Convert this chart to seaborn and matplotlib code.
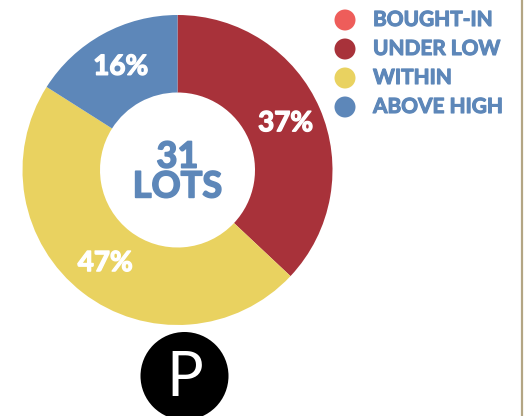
import matplotlib
matplotlib.use("Agg")
import matplotlib.pyplot as plt
from matplotlib.patches import Circle
import matplotlib.patheffects as pe
import seaborn as sns
import numpy as np

categories = ["BOUGHT-IN", "UNDER LOW", "WITHIN", "ABOVE HIGH"]
percent = [0, 37, 47, 16]
colors = ["#ee5d5a", "#a8323a", "#e9d260", "#5d87b9"]
total_lots = 31

sns.set_theme(style="white")
plt.rcParams['font.family'] = ['Lato', 'DejaVu Sans']

W, H = 532, 416
fig = plt.figure(figsize=(W / 100, H / 100), dpi=100)
ax = fig.add_axes([0, 0, 1, 1])

text_blue = "#5d87b9"
cx, cy = 177.5, H - 170
R = 155

vals = [v for v in percent if v > 0]
cols = [c for v, c in zip(percent, colors) if v > 0]
wedges, texts = ax.pie(vals, colors=cols, startangle=90, counterclock=False,
                       radius=R, center=(cx, cy), frame=True,
                       wedgeprops=dict(width=R * 0.5, linewidth=0))
ax.set_xlim(0, W)
ax.set_ylim(0, H)
ax.set_aspect("equal")
ax.axis("off")


def heavy(color, w):
    return [pe.withStroke(linewidth=w, foreground=color)]


# percent labels
ang = 90.0
for v in vals:
    mid = ang - v / 100 * 360 / 2
    ang -= v / 100 * 360
    r = R * 0.76
    x = cx + r * np.cos(np.deg2rad(mid))
    y = cy + r * np.sin(np.deg2rad(mid))
    ax.text(x, y, f"{v}%", color="white", fontsize=20, fontweight="bold",
            ha="center", va="center", path_effects=heavy("white", 1.0))

ax.text(cx, cy - 2, f"{total_lots}\nLOTS", color=text_blue, fontsize=26,
        fontweight="bold", ha="center", va="center", linespacing=0.88,
        path_effects=heavy(text_blue, 1.2))

# legend
ly = [20, 49, 78, 107]
for name, c, y in zip(categories, colors, ly):
    ax.add_patch(Circle((345, H - y), 10.5, color=c, lw=0))
    ax.text(373, H - y, name, color=text_blue, fontsize=15,
            fontweight="bold", ha="left", va="center",
            path_effects=heavy(text_blue, 0.8))

# P logo
ax.add_patch(Circle((184.5, H - 376), 44, color="black", lw=0))
ax.text(185, H - 378, "P", color="white", fontsize=44,
        ha="center", va="center", family=["Lato"])

# right border
ax.plot([521.7, 521.7], [0, H], color="#b3a583", lw=1.6)

fig.savefig("out.png", dpi=100)
